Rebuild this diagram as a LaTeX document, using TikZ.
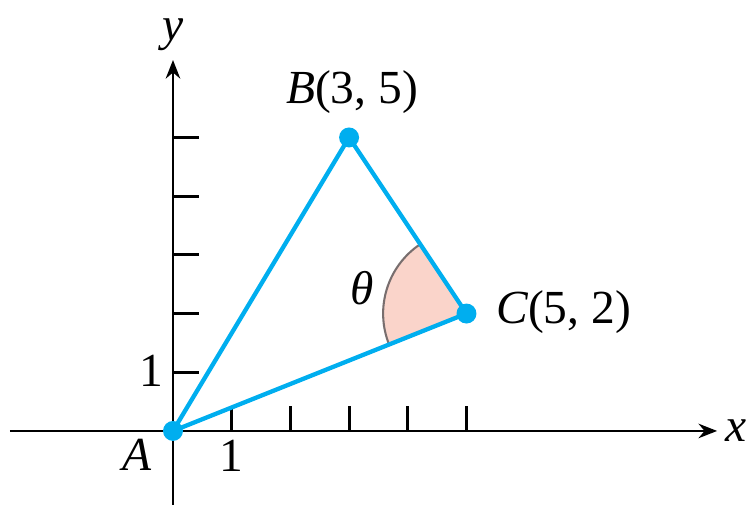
\documentclass[tikz,border=0pt]{standalone}
\usepackage{fontspec}
\setmainfont{Liberation Serif}
\usetikzlibrary{arrows.meta}
\definecolor{linecyan}{RGB}{0,174,239}
\definecolor{anglepink}{RGB}{250,212,202}
\definecolor{arcgray}{RGB}{120,110,110}
\begin{document}
\begin{tikzpicture}[x=10mm, y=10mm,
		>={Stealth[length=9pt,width=7pt]},
		font=\fontsize{23}{27}\selectfont,
		dot/.style={circle, fill=linecyan, inner sep=0pt, minimum size=0.34cm},
		side/.style={draw=linecyan, line width=2.1pt}]
		\useasboundingbox (-2.947,-1.346) rectangle (9.796,7.342);
		% Achsen zeichnen
		\coordinate (xl) at (-2.78,0);
		\coordinate (xr) at (9.27,0);
		\coordinate (yb) at (0,-1.26);
		\coordinate (yt) at (0,6.32);
		\draw[->,line width=1.4pt] (xl) -- (xr) node[right] (xlab) {\textit{x}};
		\draw[->,line width=1.4pt] (yb) -- (yt);
		\node (ylab) at (0,6.75) {\textit{y}};
		% Achsen beschriften
		\foreach \x in {1,...,5} \draw[line width=1.4pt] (\x,0) -- (\x,.43);
		\foreach \y in {1,...,5} \draw[line width=1.4pt] (0,\y) -- (.45,\y);
		\node (onex) at (1,-.43) {1};
		\node (oney) at (-.36,1.02) {1};
		% Winkel bei C
		\fill[anglepink] (5,2) -- ++(123.7:1.42) arc[start angle=123.7, end angle=201.8, radius=1.42] -- cycle;
		\draw[arcgray, line width=1pt] (5,2) ++(123.7:1.42) arc[start angle=123.7, end angle=201.8, radius=1.42];
		\node (theta) at (3.22,2.44) {\textit{θ}};
		% Dreieck zeichnen
		\node[dot] (A) at (0,0) {};
		\node[dot] (B) at (3,5) {};
		\node[dot] (C) at (5,2) {};
		\draw[side] (A.center) -- (B.center) -- (C.center) -- (A.center);
		\node (Alab) at (-.61,-.41) {\textit{A}};
		\node (Blab) at (3.05,5.78) {\textit{B}(3, 5)};
		\node[right] (Clab) at (5.38,2.02) {\textit{C}(5, 2)};
	\end{tikzpicture}
\end{document}
